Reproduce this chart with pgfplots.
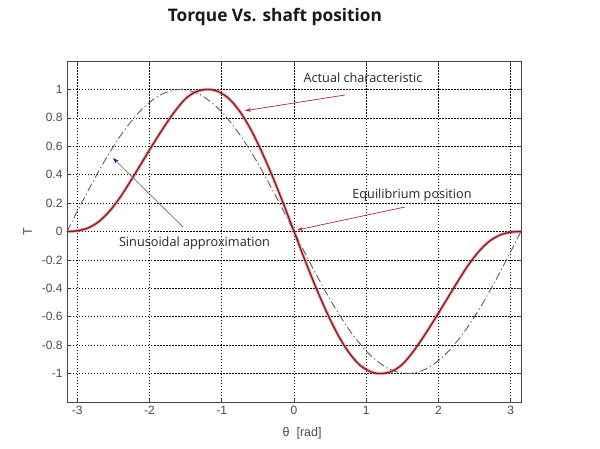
\documentclass[border=0pt]{standalone}
\usepackage{fontspec}
\setmainfont{Liberation Sans}
\newfontfamily\osans{Open Sans}
\usepackage{pgfplots}
\pgfplotsset{compat=1.18}
\usetikzlibrary{arrows.meta,calc}

\definecolor{actual}{RGB}{125,28,35}
\definecolor{actualglow}{RGB}{235,80,90}
\definecolor{sinus}{RGB}{85,95,110}
\definecolor{tickgray}{RGB}{75,75,75}
\definecolor{framegray}{RGB}{70,70,70}
\definecolor{arrred}{RGB}{185,35,50}
\definecolor{arrgray}{RGB}{120,125,135}
\definecolor{arrblue}{RGB}{20,30,140}

\pgfplotstableread{
x y
-3.1416 0
-3.00 0.005
-2.85 0.025
-2.70 0.07
-2.55 0.145
-2.40 0.245
-2.25 0.365
-2.10 0.49
-1.95 0.615
-1.80 0.735
-1.65 0.845
-1.50 0.935
-1.35 0.985
-1.19 1.0
-1.05 0.985
-0.90 0.935
-0.75 0.845
-0.60 0.72
-0.45 0.565
-0.30 0.39
-0.15 0.20
0 0
0.15 -0.20
0.30 -0.39
0.45 -0.565
0.60 -0.72
0.75 -0.845
0.90 -0.935
1.05 -0.985
1.19 -1.0
1.35 -0.985
1.50 -0.935
1.65 -0.845
1.80 -0.735
1.95 -0.615
2.10 -0.49
2.25 -0.365
2.40 -0.245
2.55 -0.145
2.70 -0.07
2.85 -0.025
3.00 -0.005
3.1416 0
}\actualtab

\pgfplotstableread{
x y
-3.1416 0
-2.8798 0.2588
-2.6180 0.5
-2.3562 0.7071
-2.0944 0.8660
-1.8326 0.9659
-1.5708 1
-1.3090 0.9659
-1.0472 0.8660
-0.7854 0.7071
-0.5236 0.5
-0.2618 0.2588
0 0
0.2618 -0.2588
0.5236 -0.5
0.7854 -0.7071
1.0472 -0.8660
1.3090 -0.9659
1.5708 -1
1.8326 -0.9659
2.0944 -0.8660
2.3562 -0.7071
2.6180 -0.5
2.8798 -0.2588
3.1416 0
}\sintab

\begin{document}
\begin{tikzpicture}[x=1pt,y=1pt]
\begin{axis}[
  name=ax,
  scale only axis, width=454pt, height=341pt,
  xmin=-3.14159, xmax=3.14159, ymin=-1.2, ymax=1.2,
  xtick={-3,-2,-1,0,1,2,3},
  ytick={-1,-0.8,-0.6,-0.4,-0.2,0,0.2,0.4,0.6,0.8,1},
  grid=major,
  major grid style={black, line width=0.6pt, dash pattern=on 1.5pt off 1.5pt},
  axis line style={framegray, line width=0.8pt},
  tick align=inside, major tick length=3.5pt,
  tick style={framegray, line width=0.6pt},
  ticklabel style={font=\fontsize{12}{13}\selectfont, text=tickgray},
  xticklabel style={yshift=-1pt},
  yticklabel style={xshift=-1pt},
  /pgf/number format/assume math mode=true,
  xlabel={θ\ \ [rad]},
  ylabel={T},
  xlabel style={font=\fontsize{12.5}{14}\selectfont, text=tickgray, at={(axis description cs:0.518,-0.091)}, anchor=center},
  ylabel style={font=\fontsize{12.5}{14}\selectfont, text=tickgray, at={(axis description cs:-0.087,0.5)}, anchor=center},
  clip=false,
]
\addplot[sinus, line width=0.9pt, dash pattern=on 8pt off 3pt on 1.2pt off 3pt, smooth] table[x=x,y=y] {\sintab};
\addplot[actualglow, line width=3.2pt, opacity=0.5, smooth] table[x=x,y=y] {\actualtab};
\addplot[actual, line width=1.3pt, smooth] table[x=x,y=y] {\actualtab};
\end{axis}
\pgfresetboundingbox
\begin{scope}[shift={($(ax.south west)+(-67pt,-46pt)$)}]
\path[use as bounding box] (0,0) rectangle (600,448);
% annotations
\node[font=\osans\fontsize{12.7}{15}\selectfont, text=black!85] at (363,370) {Actual characteristic};
\draw[arrred, line width=0.7pt, -{Stealth[length=6pt,width=4pt]}] (345,353) -- (245,337.3);
\node[font=\osans\fontsize{12.7}{15}\selectfont, text=black!85] at (412,253) {Equilibrium position};
\draw[arrred, line width=0.7pt, -{Stealth[length=6pt,width=4pt]}] (405,241) -- (297,218);
\node[font=\osans\fontsize{12.7}{15}\selectfont, text=black!85] at (194.5,205) {Sinusoidal approximation};
\draw[arrgray, line width=0.8pt, -{Stealth[length=6pt,width=4pt,color=arrblue]}] (183,221) -- (113,290);
\node[font=\osans\bfseries\fontsize{17.3}{20}\selectfont, text=black!90] at (275,431.5) {Torque Vs. shaft position};
\end{scope}
\end{tikzpicture}
\end{document}
